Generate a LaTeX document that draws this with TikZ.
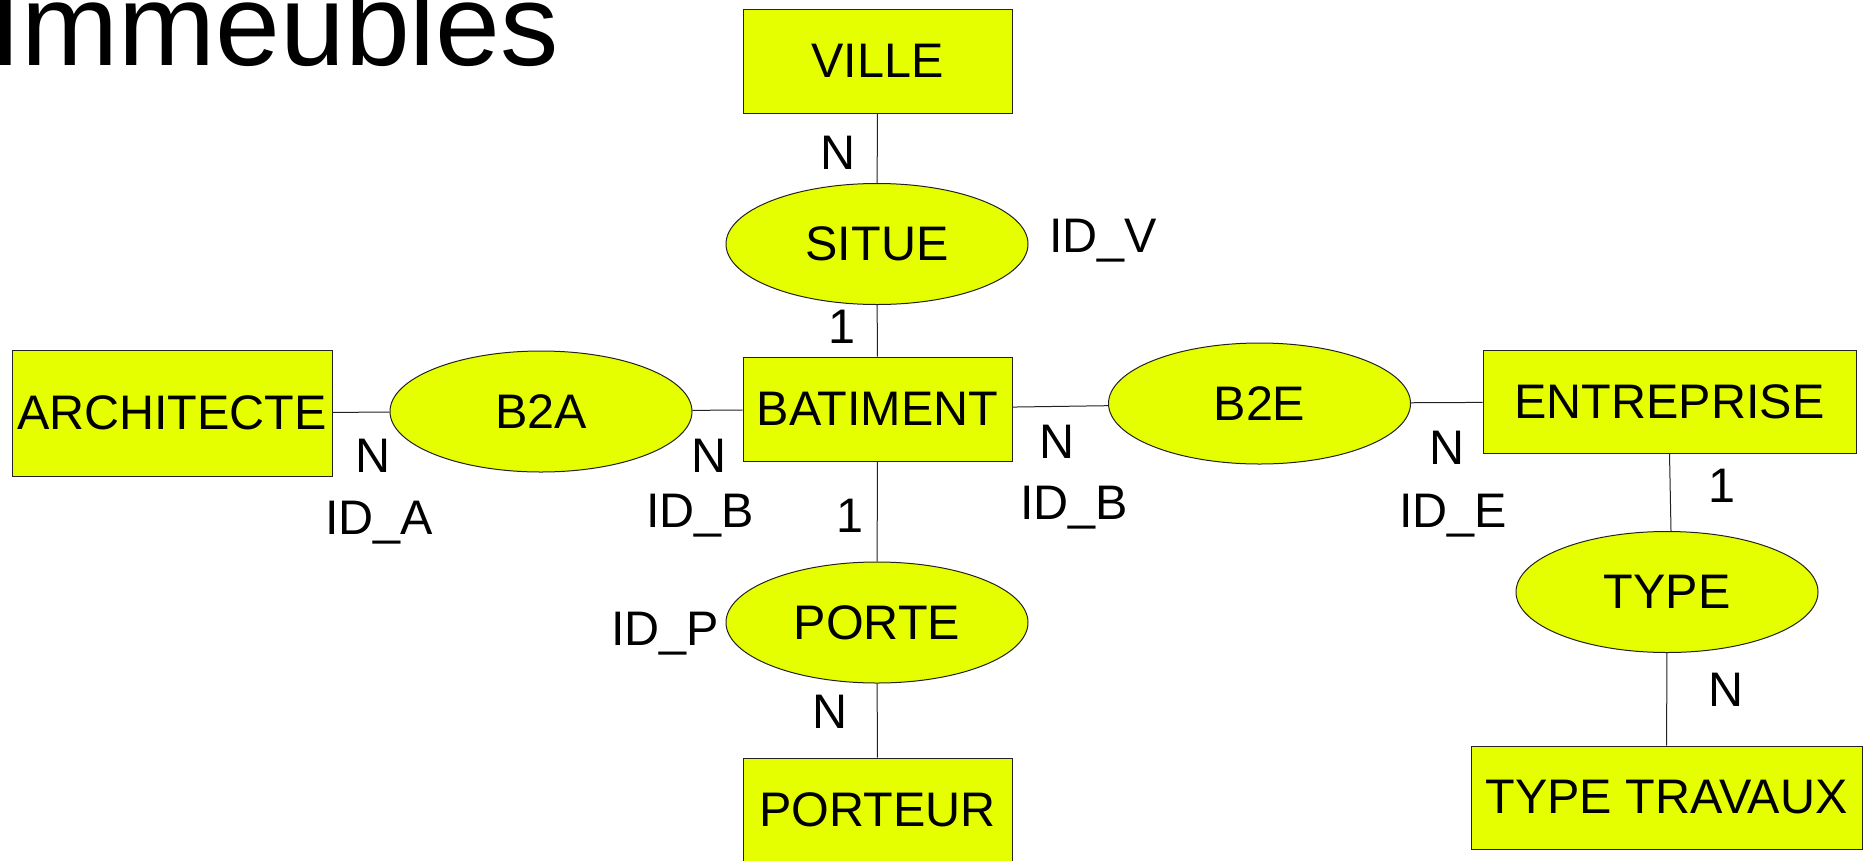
\documentclass[tikz,border=0pt]{standalone}
\usepackage{fontspec}
\setmainfont{Liberation Sans}
\usetikzlibrary{shapes.geometric}
\definecolor{ery}{HTML}{E6FF00}
\definecolor{edgec}{HTML}{222222}
\begin{document}
\begin{tikzpicture}[x=1pt,y=-1pt,
  entity/.style={draw=edgec, fill=ery, line width=1pt, inner sep=0pt, font=\fontsize{48.5}{52}\selectfont},
  relation/.style={ellipse, draw=edgec, fill=ery, line width=1pt, inner sep=0pt, minimum width=302pt, minimum height=121pt, font=\fontsize{48.5}{52}\selectfont},
  lbl/.style={inner sep=0pt, anchor=base, font=\fontsize{48.5}{52}\selectfont},
  lblw/.style={inner sep=0pt, anchor=base west, font=\fontsize{48.5}{52}\selectfont},
  conn/.style={draw=edgec, line width=1pt}]
\useasboundingbox (0,0) rectangle (1863,860);

\node[inner sep=0pt, anchor=base west, font=\fontsize{116.5}{120}\selectfont] (title) at (-11,65) {Immeubles};

% entities
\node[entity, minimum width=269pt, minimum height=104pt] (ville) at (877.5,61) {VILLE};
\node[entity, minimum width=269pt, minimum height=104pt] (bat) at (877.5,409) {BATIMENT};
\node[entity, minimum width=269pt, minimum height=104pt] (porteur) at (877.5,810) {PORTEUR};
\node[entity, minimum width=320pt, minimum height=126pt] (arch) at (172,413) {ARCHITECTE};
\node[entity, minimum width=373pt, minimum height=103pt] (ent) at (1669.5,401.5) {ENTREPRISE};
\node[entity, minimum width=391pt, minimum height=103pt] (tt) at (1666.5,797.5) {TYPE TRAVAUX};

% relations
\node[relation] (situe) at (877,244) {SITUE};
\node[relation] (b2a) at (541,411.5) {B2A};
\node[relation] (b2e) at (1259.5,403.5) {B2E};
\node[relation] (type) at (1667,592) {TYPE};
\node[relation] (porte) at (877,622.5) {PORTE};

% connectors
\draw[conn] (ville) -- (situe);
\draw[conn] (situe) -- (bat);
\draw[conn] (bat) -- (porte);
\draw[conn] (porte) -- (porteur);
\draw[conn] (arch) -- (b2a);
\draw[conn] (b2a) -- (bat);
\draw[conn] (bat) -- (b2e);
\draw[conn] (b2e) -- (ent);
\draw[conn] (ent.south) -- ([xshift=4pt]type.north);
\draw[conn] (type) -- (tt);

% cardinality labels
\node[lbl] (c1) at (838,169) {N};
\node[lblw] (k1) at (1049,252) {ID\_V};
\node[lbl] (c2) at (842,343) {1};
\node[lbl] (c3) at (373,472) {N};
\node[lblw] (k2) at (325,534) {ID\_A};
\node[lbl] (c4) at (709,472) {N};
\node[lblw] (k3) at (646,527) {ID\_B};
\node[lbl] (c5) at (850,532) {1};
\node[lbl] (c6) at (1057,458) {N};
\node[lblw] (k4) at (1020,519) {ID\_B};
\node[lbl] (c7) at (1447,464) {N};
\node[lblw] (k5) at (1399,527) {ID\_E};
\node[lbl] (c8) at (1722,502) {1};
\node[lbl] (c9) at (1726,706) {N};
\node[lblw] (k6) at (611,645) {ID\_P};
\node[lbl] (c10) at (830.5,728) {N};
\end{tikzpicture}
\end{document}
